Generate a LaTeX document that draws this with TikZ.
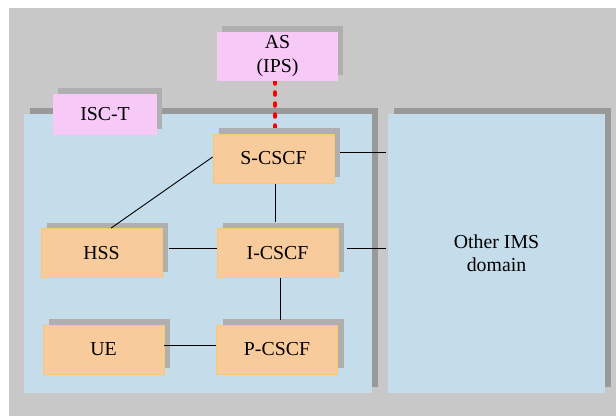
\documentclass[tikz,border=0pt]{standalone}
\usepackage{fontspec}
\setmainfont{Liberation Serif}
\usetikzlibrary{calc,shadows}
\definecolor{bggray}{HTML}{C8C8C8}
\definecolor{domblue}{HTML}{C5DDEA}
\definecolor{domshadow}{HTML}{999999}
\definecolor{nodeshadow}{HTML}{AFAFAF}
\definecolor{peach}{HTML}{F8CB9D}
\definecolor{peachborder}{HTML}{F9C870}
\definecolor{pinkfill}{HTML}{F6C9F6}
\tikzset{
  px/.style={x=1pt,y=-1pt},
  elem/.style={rectangle, inner sep=0pt, minimum width=121pt, minimum height=49pt,
    fill=peach, draw=peachborder, line width=0.8pt,
    font=\fontsize{19.8}{24}\selectfont, align=center,
    drop shadow={shadow xshift=6pt, shadow yshift=6pt, opacity=1, fill=nodeshadow, draw=none}},
  pinkbox/.style={rectangle, inner sep=0pt, minimum width=121pt, minimum height=49pt,
    fill=pinkfill, draw=none,
    font=\fontsize{19.8}{24}\selectfont, align=center,
    drop shadow={shadow xshift=5pt, shadow yshift=6pt, opacity=1, fill=nodeshadow, draw=none}},
  imsdomain/.style={rectangle, inner sep=0pt, fill=domblue, draw=none,
    font=\fontsize{19.8}{23}\selectfont, align=center,
    drop shadow={shadow xshift=6pt, shadow yshift=6pt, opacity=1, fill=domshadow, draw=none}},
  link/.style={draw=black, line width=0.9pt},
  iscline/.style={draw=red, line width=3.5pt, dash pattern=on 3pt off 8pt, line cap=round}
}
\begin{document}
\begin{tikzpicture}[px]
\useasboundingbox (0,0) rectangle (616,416);
\fill[white] (0,0) rectangle (616,416);
\fill[bggray] (9,8) rectangle (616,416);

% domains
\node[imsdomain, minimum width=348pt, minimum height=279pt] (home) at (198,253.5) {};
\node[imsdomain, minimum width=217pt, minimum height=279pt] (other) at (496.5,253.5) {Other IMS\\domain};

% free ends of connectors at the other domain
\coordinate (oS) at (386,152);
\coordinate (oI) at (386,248);

% connectors
\coordinate (asdrop) at (275,81);
\coordinate (sfoot) at (275,128);
\draw[iscline] (asdrop) -- (sfoot);

\node[pinkbox] (AS) at (277.5,56.5) {AS\\(IPS)};
\node[pinkbox, minimum width=104pt, minimum height=41pt] (ISCT) at (105,114.5) {ISC-T};

\node[elem] (SCSCF) at (273.5,158.5) {S-CSCF};
\node[elem] (HSS) at (101.5,253) {HSS};
\node[elem] (ICSCF) at (277.5,253) {I-CSCF};
\node[elem] (UE) at (103.5,349.5) {UE};
\node[elem] (PCSCF) at (277,349.5) {P-CSCF};

\draw[link] ([yshift=1.5pt]SCSCF.west) -- ($(HSS.north)+(9.5,0)$);
\draw[link] ($(SCSCF.east|-oS)+(6,0)$) -- (oS);
\draw[link] (275,183.5) -- ($(ICSCF.north)+(-2.5,-6)$);
\draw[link] ($(HSS.east)+(7,-5)$) -- ($(ICSCF.west)+(0,-5)$);
\draw[link] ($(ICSCF.east|-oI)+(9,0)$) -- (oI);
\draw[link] ($(ICSCF.south)+(2.5,0)$) -- ($(PCSCF.north)+(3,-5)$);
\draw[link] ($(UE.east)+(0,-4.5)$) -- ($(PCSCF.west)+(0,-4.5)$);
\end{tikzpicture}
\end{document}
